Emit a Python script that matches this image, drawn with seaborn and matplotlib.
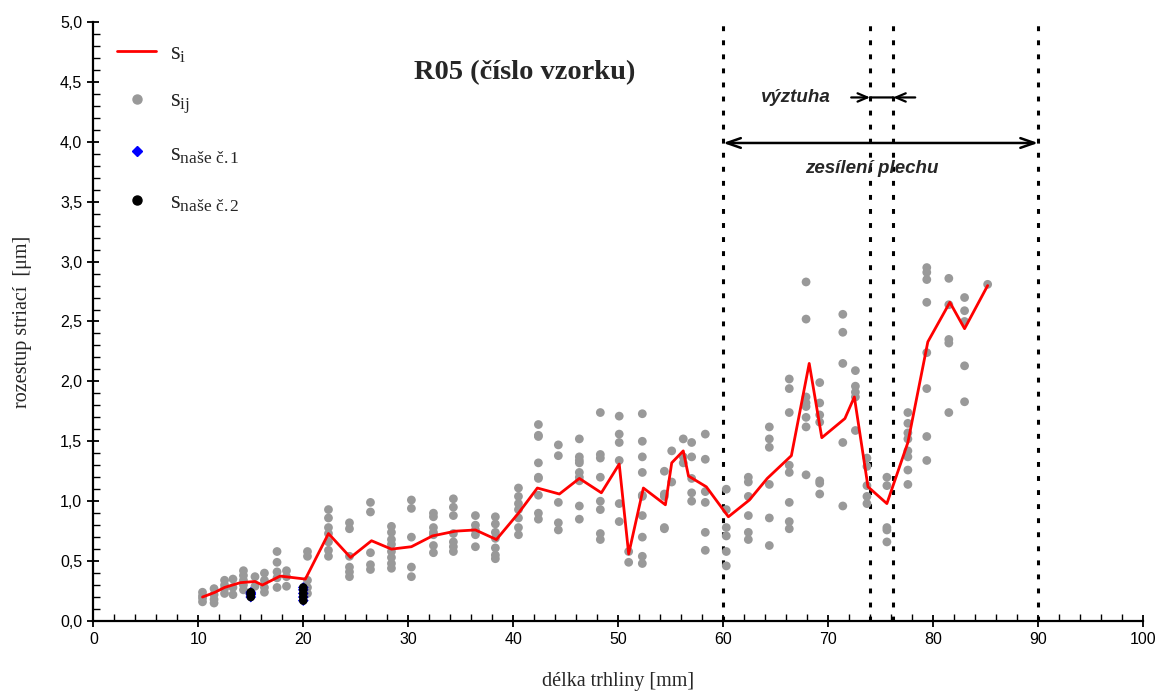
import numpy as np
import pandas as pd
import seaborn as sns
import matplotlib.pyplot as plt
from matplotlib.lines import Line2D
from matplotlib.ticker import MultipleLocator, FuncFormatter

# s_i - mean striation spacing along the crack
si_x = [10.4, 11.6, 12.5, 14.0, 15.4, 16.1, 17.8, 20.2, 22.4, 24.5, 26.5, 28.4, 30.3,
        32.3, 34.5, 36.4, 38.4, 40.5, 42.3, 44.4, 46.3, 48.4, 50.1, 51.0, 52.4, 54.5,
        55.1, 56.2, 56.7, 58.4, 60.5, 62.5, 64.2, 66.5, 68.2, 69.4, 71.6, 72.5, 73.8,
        75.6, 77.6, 79.5, 81.6, 83.0, 85.2]
si_y = [0.20, 0.24, 0.28, 0.32, 0.33, 0.30, 0.375, 0.35, 0.73, 0.53, 0.67, 0.60, 0.62,
        0.71, 0.75, 0.76, 0.68, 0.90, 1.11, 1.06, 1.19, 1.07, 1.31, 0.56, 1.11, 0.97,
        1.32, 1.42, 1.21, 1.12, 0.87, 1.01, 1.19, 1.38, 2.15, 1.53, 1.69, 1.87, 1.12,
        0.98, 1.49, 2.33, 2.66, 2.44, 2.80]

# s_ij - individual measurements, grouped by crack length
sij_x = [10.4, 11.5, 12.5, 13.3, 14.3, 15.4, 16.3, 17.5, 18.4, 20.4, 22.4, 24.4, 26.4,
         28.4, 30.3, 32.4, 34.3, 36.4, 38.3, 40.5, 42.4, 44.3, 46.3, 48.3, 50.1, 51.0,
         52.3, 54.4, 55.1, 56.2, 57.0, 58.3, 60.3, 62.4, 64.4, 66.3, 67.9, 69.2, 71.4,
         72.6, 73.7, 75.6, 77.6, 79.4, 81.5, 83.0, 85.2]
sij_y = [
    [0.16, 0.19, 0.21, 0.24],
    [0.15, 0.18, 0.22, 0.27],
    [0.23, 0.27, 0.30, 0.34],
    [0.22, 0.28, 0.35],
    [0.26, 0.30, 0.34, 0.38, 0.42],
    [0.29, 0.37],
    [0.24, 0.28, 0.34, 0.40],
    [0.28, 0.36, 0.41, 0.49, 0.58],
    [0.29, 0.37, 0.42],
    [0.23, 0.28, 0.34, 0.54, 0.58],
    [0.54, 0.59, 0.66, 0.73, 0.78, 0.86, 0.93],
    [0.37, 0.41, 0.45, 0.54, 0.77, 0.82],
    [0.43, 0.47, 0.57, 0.91, 0.99],
    [0.44, 0.48, 0.53, 0.58, 0.64, 0.68, 0.74, 0.79],
    [0.37, 0.45, 0.70, 0.94, 1.01],
    [0.57, 0.63, 0.72, 0.74, 0.78, 0.87, 0.90],
    [0.58, 0.62, 0.66, 0.73, 0.88, 0.95, 1.02],
    [0.62, 0.72, 0.76, 0.80, 0.88],
    [0.52, 0.55, 0.61, 0.69, 0.74, 0.81, 0.87],
    [0.72, 0.78, 0.86, 0.93, 0.98, 1.04, 1.11],
    [0.85, 0.90, 1.05, 1.19, 1.20, 1.32, 1.54, 1.55, 1.64],
    [0.76, 0.82, 0.99, 1.38, 1.47],
    [0.85, 0.96, 1.17, 1.20, 1.24, 1.32, 1.34, 1.37, 1.52],
    [0.68, 0.73, 0.93, 1.00, 1.20, 1.36, 1.39, 1.74],
    [0.83, 0.98, 1.34, 1.49, 1.56, 1.71],
    [0.49, 0.58],
    [0.48, 0.54, 0.70, 0.88, 1.04, 1.05, 1.24, 1.37, 1.50, 1.73],
    [0.77, 0.78, 1.04, 1.06, 1.25],
    [1.16, 1.42],
    [1.32, 1.37, 1.52],
    [1.00, 1.07, 1.19, 1.37, 1.49],
    [0.59, 0.74, 0.99, 1.08, 1.35, 1.56],
    [0.46, 0.58, 0.71, 0.78, 0.93, 1.10],
    [0.68, 0.74, 0.88, 1.04, 1.16, 1.20],
    [0.63, 0.86, 1.14, 1.45, 1.52, 1.62],
    [0.77, 0.83, 0.99, 1.24, 1.30, 1.74, 1.94, 2.02],
    [1.22, 1.62, 1.70, 1.79, 1.82, 1.87, 2.52, 2.83],
    [1.06, 1.15, 1.17, 1.66, 1.72, 1.82, 1.99],
    [0.96, 1.49, 2.15, 2.41, 2.56],
    [1.59, 1.87, 1.91, 1.96, 2.09],
    [0.98, 1.04, 1.13, 1.29, 1.36],
    [0.66, 0.76, 0.78, 1.13, 1.20],
    [1.14, 1.26, 1.37, 1.42, 1.52, 1.57, 1.65, 1.74],
    [1.34, 1.54, 1.94, 2.24, 2.66, 2.85, 2.91, 2.95],
    [1.74, 2.32, 2.35, 2.64, 2.86],
    [1.83, 2.13, 2.50, 2.59, 2.70],
    [2.81],
]

# our own measurements
nase1_x = [15.0, 15.0, 15.0, 15.0, 20.0, 20.0, 20.0, 20.0, 20.0]
nase1_y = [0.20, 0.22, 0.23, 0.24, 0.17, 0.20, 0.23, 0.26, 0.28]
nase2_x = [15.0, 15.0, 15.0, 15.0, 20.0, 20.0, 20.0, 20.0, 20.0]
nase2_y = [0.20, 0.22, 0.23, 0.24, 0.17, 0.20, 0.23, 0.26, 0.28]

# boundaries of stiffener and plate reinforcement
zone_x = [60, 74, 76.2, 90]

sij = pd.DataFrame({
    "x": np.repeat(sij_x, [len(v) for v in sij_y]),
    "y": np.concatenate(sij_y),
})

sns.set_style("ticks")
plt.rcParams['font.family'] = ['Liberation Sans', 'DejaVu Sans']
plt.rcParams['mathtext.fontset'] = 'custom'
plt.rcParams['mathtext.rm'] = 'Liberation Serif'
plt.rcParams['mathtext.it'] = 'Liberation Serif:italic'

fig = plt.figure(figsize=(11.61, 6.91), dpi=100)
ax = fig.add_axes([0.0804, 0.1013, 0.9041, 0.8669])

sns.scatterplot(data=sij, x="x", y="y", color="#999999", s=40, edgecolor="none",
                ax=ax, zorder=2)
sns.lineplot(x=si_x, y=si_y, color="red", lw=2, estimator=None, sort=False,
             ax=ax, zorder=3)
sns.scatterplot(x=nase1_x, y=nase1_y, color="blue", marker="D", s=30,
                edgecolor="none", ax=ax, zorder=4)
sns.scatterplot(x=nase2_x, y=nase2_y, color="black", s=38, edgecolor="none",
                ax=ax, zorder=5)

for xv in zone_x:
    ax.axvline(xv, color="black", lw=2.2, linestyle=(0, (1.6, 3.0)), zorder=1)

ax.set_xlim(0, 100)
ax.set_ylim(0, 5)
ax.xaxis.set_major_locator(MultipleLocator(10))
ax.xaxis.set_minor_locator(MultipleLocator(2))
ax.yaxis.set_major_locator(MultipleLocator(0.5))
ax.yaxis.set_minor_locator(MultipleLocator(0.1))
ax.yaxis.set_major_formatter(FuncFormatter(lambda v, p: f"{v:.1f}".replace(".", ",")))
ax.tick_params(which="major", direction="inout", length=9, width=1.3,
               labelsize=11.5, colors="black")
ax.tick_params(which="minor", direction="in", length=5, width=1.0, colors="black")
sns.despine(ax=ax)
for sp in ["left", "bottom"]:
    ax.spines[sp].set_linewidth(1.6)
    ax.spines[sp].set_color("black")

ax.set_xlabel("délka trhliny [mm]", family="Liberation Serif", fontsize=14.5, labelpad=18)
ax.set_ylabel("rozestup striací  [μm]", family="Liberation Serif", fontsize=14.5, labelpad=20)

ax.text(41.1, 4.58, "R05 (číslo vzorku)", ha="center", va="center", fontsize=20.5,
        fontweight="bold", family="Liberation Serif")

# stiffener arrows
ax.text(66.9, 4.37, "výztuha", ha="center", va="center", fontsize=13.5,
        fontweight="bold", fontstyle="italic")
ax.annotate("", xy=(74, 4.37), xytext=(72.2, 4.37),
            arrowprops=dict(arrowstyle="->,head_length=0.7,head_width=0.3", lw=1.6,
                            color="black", shrinkA=0, shrinkB=0))
ax.annotate("", xy=(76.2, 4.37), xytext=(78.3, 4.37),
            arrowprops=dict(arrowstyle="->,head_length=0.7,head_width=0.3", lw=1.6,
                            color="black", shrinkA=0, shrinkB=0))
ax.annotate("", xy=(76.2, 4.37), xytext=(74, 4.37),
            arrowprops=dict(arrowstyle="-", lw=1.6, color="black", shrinkA=0, shrinkB=0))
# plate reinforcement arrow
ax.annotate("", xy=(90, 3.99), xytext=(60, 3.99),
            arrowprops=dict(arrowstyle="<->,head_length=1.0,head_width=0.35", lw=1.8,
                            color="black", shrinkA=0, shrinkB=0))
ax.text(74.2, 3.78, "zesílení plechu", ha="center", va="center", fontsize=13.5,
        fontweight="bold", fontstyle="italic")

handles = [
    Line2D([], [], color="red", lw=2),
    Line2D([], [], color="#999999", marker="o", ls="none", markersize=6.5),
    Line2D([], [], color="blue", marker="D", ls="none", markersize=5),
    Line2D([], [], color="black", marker="o", ls="none", markersize=6.5),
]
labels = [r"$\mathrm{s}_{\mathrm{i}}$", r"$\mathrm{s}_{\mathrm{ij}}$",
          r"$\mathrm{s}_{\mathrm{naše\ č.1}}$", r"$\mathrm{s}_{\mathrm{naše\ č.2}}$"]
ax.legend(handles, labels, loc="upper left", bbox_to_anchor=(0.011, 0.99),
          frameon=False, fontsize=18, labelspacing=0.95, handlelength=1.55,
          handletextpad=0.55, borderpad=0)

fig.savefig("out.png", dpi=100)
